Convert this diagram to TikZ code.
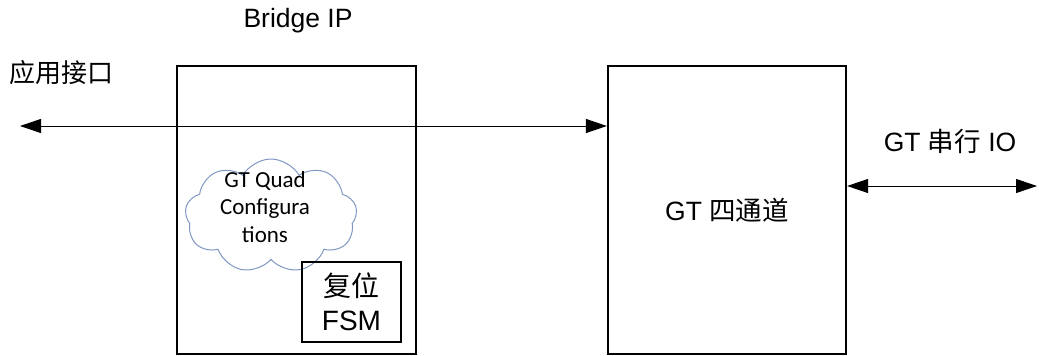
\documentclass[tikz,border=0pt]{standalone}
\usepackage{fontspec}
\setmainfont{Liberation Sans}
\newfontfamily\cjk{Noto Sans CJK SC}
\newfontfamily\calib{Carlito}
\usetikzlibrary{arrows.meta,shapes.symbols}
\definecolor{cloudline}{HTML}{8097C4}
\tikzset{
  block/.style={draw, line width=2.2pt, inner sep=0pt},
  sig/.style={line width=1pt, {Triangle[length=21pt,width=14pt]}-{Triangle[length=21pt,width=14pt]}},
  lbl/.style={font=\fontsize{26.5}{30}\selectfont, inner sep=0pt},
}
\begin{document}
\begin{tikzpicture}[x=1pt,y=-1pt]
\useasboundingbox (0,0) rectangle (1039,356);
% main blocks
\node[block, minimum width=239pt, minimum height=288pt] (bridge) at (296.5,210) {};
\node[block, minimum width=238pt, minimum height=288pt] (gt) at (727,210) {};
\node[lbl] at (gt.center) {GT {\cjk 四通道}};
% configuration cloud
\node[cloud, draw=cloudline, line width=1pt, cloud puffs=9, cloud puff arc=120,
      aspect=1.5, minimum width=172pt, minimum height=114pt, inner sep=0pt] (cfg) at (271,216) {};
\node[align=center, inner sep=0pt, font=\calib\fontsize{23}{27.5}\selectfont] (cfgtext) at (265,207)
      {GT Quad\\Configura\\tions};
% reset state machine
\node[block, line width=1.8pt, minimum width=99pt, minimum height=80pt, align=center,
      font=\fontsize{28}{34}\selectfont] (fsm) at (351.5,302) {{\cjk 复位}\\FSM};
% labels
\node[lbl] (title) at (298,21) {Bridge IP};
\node[lbl, anchor=west, font=\fontsize{26}{30}\selectfont] (app) at (9,73) {\cjk 应用接口};
\node[lbl] (serio) at (950,141) {GT {\cjk 串行} IO};
% signal lines
\coordinate (append) at (20,126);
\coordinate (ioend) at (1037,186);
\draw[sig] (append) -- (append -| gt.west);
\draw[sig] (ioend -| gt.east) -- (ioend);
\end{tikzpicture}
\end{document}
